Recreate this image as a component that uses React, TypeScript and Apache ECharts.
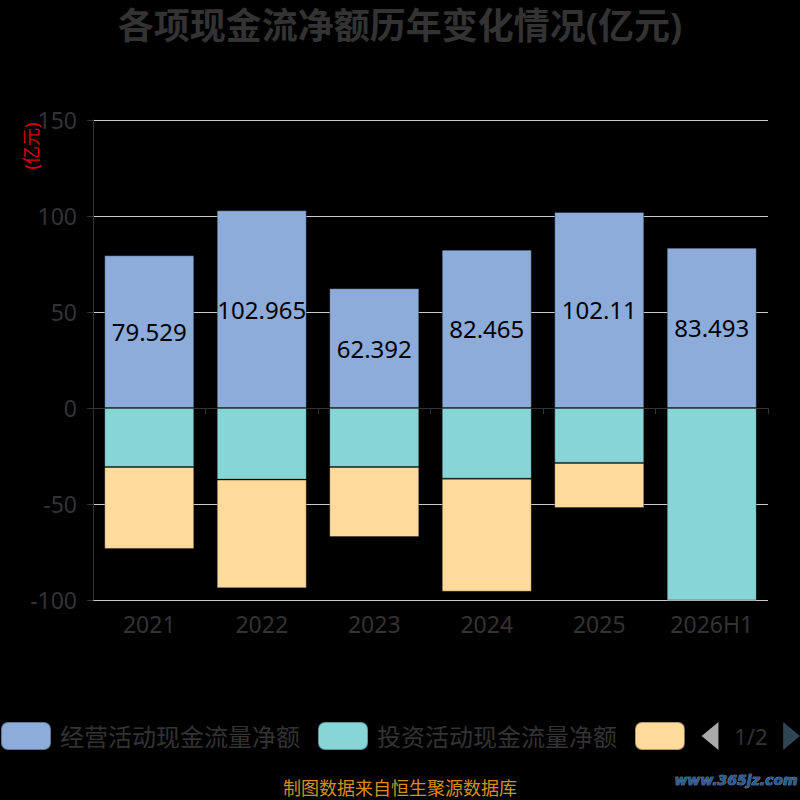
import React, { useEffect, useRef } from "react";
import * as echarts from "echarts";

const categories = ["2021", "2022", "2023", "2024", "2025", "2026H1"];
const operating = [79.529, 102.965, 62.392, 82.465, 102.11, 83.493];
const investing = [-30.7, -37.3, -30.7, -36.8, -28.6, -106.0];
const financing = [-42.7, -56.6, -36.5, -58.9, -23.5, 0.5];
const seriesNames = ["经营活动现金流量净额", "投资活动现金流量净额", "筹资活动现金流量净额"];
const colors = ["#8eacd9", "#88d5d8", "#ffda9b"];
const yTicks = { min: -100, max: 150, interval: 50 };

const FONT = "'Noto Sans', 'Noto Sans CJK SC', sans-serif";

export default function App() {
  const ref = useRef<HTMLDivElement>(null);
  useEffect(() => {
    document.body.style.margin = "0";
    document.body.style.background = "#000";
    const chart = echarts.init(ref.current!, undefined, { renderer: "svg" });
    const data = [operating, investing, financing];
    chart.setOption({
      animation: false,
      backgroundColor: "#000",
      textStyle: { fontFamily: FONT },
      color: colors,
      title: {
        text: "各项现金流净额历年变化情况(亿元)",
        left: "center",
        top: 2,
        textStyle: { fontSize: 36, fontWeight: "bold", color: "#333", fontFamily: FONT },
      },
      legend: {
        type: "scroll",
        left: 0,
        right: 0,
        top: 721,
        padding: 0,
        itemWidth: 50,
        itemHeight: 28,
        itemGap: 17,
        icon: "roundRect",
        textStyle: { fontSize: 24, color: "#333", fontFamily: FONT, padding: [0, 0, 0, 4] },
        pageIconColor: "#2f4554",
        pageIconInactiveColor: "#aaa",
        pageIconSize: [18, 28],
        pageTextStyle: { fontSize: 22, color: "#333", fontFamily: FONT },
        data: seriesNames,
      },
      grid: { left: 93, right: 32, top: 120, bottom: 200 },
      xAxis: [
        {
          type: "category",
          data: categories,
          axisLine: { onZero: true, lineStyle: { color: "#333" } },
          axisTick: { show: true, length: 6, lineStyle: { color: "#333" } },
          axisLabel: { show: false },
        },
        {
          type: "category",
          data: categories,
          position: "bottom",
          axisLine: { show: false, onZero: false },
          axisTick: { show: false },
          axisLabel: { color: "#333", fontSize: 23, margin: 12, fontFamily: FONT },
        },
      ],
      yAxis: {
        type: "value",
        min: yTicks.min,
        max: yTicks.max,
        interval: yTicks.interval,
        axisLine: { show: true, lineStyle: { color: "#333" } },
        axisTick: { show: true, length: 6, lineStyle: { color: "#333" } },
        axisLabel: { color: "#333", fontSize: 23, margin: 16, fontFamily: FONT },
        splitLine: { lineStyle: { color: "#ccc" } },
      },
      graphic: [
        {
          type: "text",
          x: 31,
          y: 146,
          rotation: Math.PI / 2,
          style: {
            text: "(亿元)",
            fill: "#e00000",
            fontSize: 18,
            fontFamily: FONT,
            textAlign: "center",
            textVerticalAlign: "middle",
          },
        },
        {
          type: "text",
          x: 400,
          y: 788,
          style: {
            text: "制图数据来自恒生聚源数据库",
            fill: "#d4901e",
            fontSize: 18,
            fontFamily: FONT,
            textAlign: "center",
            textVerticalAlign: "middle",
          },
        },
        {
          type: "text",
          x: 736,
          y: 780,
          style: {
            text: "www.365jz.com",
            fill: "#2b5d92",
            stroke: "#9fb8d8",
            lineWidth: 0.6,
            fontSize: 14,
            fontWeight: "bold",
            fontStyle: "italic",
            fontFamily: "'DejaVu Sans', sans-serif",
            textAlign: "center",
            textVerticalAlign: "middle",
          },
        },
      ],
      series: seriesNames.map((name, i) => ({
        name,
        type: "bar",
        stack: "total",
        xAxisIndex: 0,
        barWidth: "80%",
        data: data[i],
        itemStyle: { color: colors[i], borderColor: "rgba(0,0,0,0.3)", borderWidth: 1 },
        label:
          i === 0
            ? { show: true, position: "inside", color: "#000", fontSize: 24, fontFamily: FONT }
            : { show: false },
      })),
    });
    return () => chart.dispose();
  }, []);
  return <div ref={ref} style={{ width: 800, height: 800 }} />;
}
